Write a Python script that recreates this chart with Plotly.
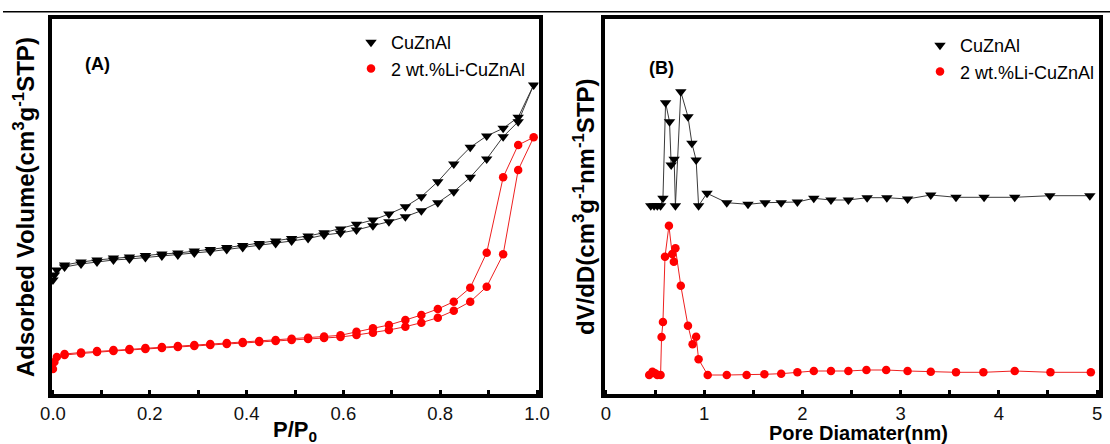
import plotly.graph_objects as go

# ---------------- data (a.u. on y) ----------------
# Panel A: N2 isotherms
p_ads = [0.000, 0.003, 0.008, 0.024, 0.058, 0.091, 0.125, 0.158, 0.191, 0.225, 0.258,
         0.292, 0.325, 0.359, 0.392, 0.426, 0.460, 0.493, 0.527, 0.560, 0.594, 0.627,
         0.661, 0.694, 0.728, 0.761, 0.795, 0.828, 0.862, 0.896, 0.930, 0.961, 0.993]
p_des = [0.961, 0.930, 0.896, 0.862, 0.828, 0.795, 0.761, 0.728, 0.694, 0.661, 0.627,
         0.594, 0.560, 0.527, 0.493, 0.460, 0.426, 0.392, 0.359, 0.325, 0.292, 0.258,
         0.225, 0.191, 0.158, 0.125, 0.091, 0.058, 0.024]
cuznal_ads = [117, 122, 127, 130, 133, 135, 137, 138, 139.5, 141, 142, 144, 145.5, 147.5,
              149.5, 151.5, 153.5, 156, 158.5, 162, 164, 167, 171.3, 175.3, 180.3, 186.3,
              194.3, 205.3, 219.7, 238, 260.3, 275.3, 312]
cuznal_des = [279.7, 268.7, 261, 249.7, 233, 215.3, 200.3, 190.3, 183, 177, 172.7, 168,
              164.3, 161, 158.5, 156, 153.5, 151.5, 149.5, 147.5, 146, 144, 143, 141.5,
              140, 139, 137, 135, 132]
li_ads = [28, 35, 40, 42, 43.5, 45, 46, 47, 48, 49, 50, 51, 52, 53, 54, 55, 56, 57, 58, 59,
          60, 62, 64.3, 67, 70.3, 74.3, 79.3, 86.3, 95.3, 110.3, 142.7, 227, 259.7]
li_des = [252, 219.7, 144.3, 109.3, 95.3, 88, 82, 77, 72, 68.7, 65.3, 61.7, 60.5, 59.3,
          58.2, 57, 56, 55, 54, 53, 52, 51, 50, 49, 48, 47, 46, 44.5, 43]

# Panel B: pore size distribution
d_cuznal = [0.456, 0.490, 0.523, 0.556, 0.580, 0.607, 0.647, 0.664, 0.694, 0.707, 0.762,
            0.835, 0.875, 0.918, 0.943, 1.029, 1.230, 1.446, 1.620, 1.784, 1.949, 2.116,
            2.291, 2.468, 2.659, 2.860, 3.071, 3.307, 3.564, 3.850, 4.162, 4.520, 4.927]
v_cuznal = [191.3, 191.3, 191.3, 191.3, 198.7, 294.3, 275.3, 232, 237.7, 191.3, 305.3,
            280.3, 253.7, 237, 191.3, 203.7, 194.3, 192.7, 194.3, 194.3, 195, 198.7,
            197, 197, 199.3, 199.3, 198, 202, 199.7, 199.7, 199.7, 201.3, 201.3]
d_li = [0.440, 0.473, 0.500, 0.523, 0.556, 0.566, 0.580, 0.601, 0.641, 0.674, 0.691,
        0.707, 0.762, 0.835, 0.882, 0.918, 0.943, 1.036, 1.230, 1.432, 1.613, 1.784,
        1.949, 2.116, 2.291, 2.468, 2.652, 2.853, 3.071, 3.307, 3.564, 3.843, 4.162,
        4.526, 4.937]
v_li = [22, 25.3, 23.7, 22, 22, 60, 75, 140.3, 171.3, 143, 135.3, 148.7, 111.3, 71.3,
        52.7, 60.3, 37.7, 22, 22, 22, 22.7, 23.3, 24.7, 26, 26, 26, 27, 27, 26, 25.3,
        24.7, 24.7, 26, 24.7, 24.7]

names = ["CuZnAl", "2 wt.%Li-CuZnAl"]
xticks_a = [0.0, 0.2, 0.4, 0.6, 0.8, 1.0]
xticks_b = [0, 1, 2, 3, 4, 5]

# ---------------- styling ----------------
W, H = 1110, 444
FONT = "Liberation Sans, Arial, sans-serif"
BLACK_LINE = "#3a3a3a"
RED = "#ff0000"
RED_LINE = "#ee2020"
tri = dict(symbol="triangle-down", size=10, color="#000000")
dot = dict(symbol="circle", size=8.5, color=RED)

def px_x(p):
    return p / W

def px_y(p):
    return 1 - p / H

fig = go.Figure()

# Panel A
fig.add_trace(go.Scatter(x=p_ads + p_des, y=cuznal_ads + cuznal_des, mode="lines+markers",
                         line=dict(color=BLACK_LINE, width=1), marker=tri,
                         xaxis="x", yaxis="y", showlegend=False))
fig.add_trace(go.Scatter(x=p_ads + p_des, y=li_ads + li_des, mode="lines+markers",
                         line=dict(color=RED_LINE, width=1), marker=dot,
                         xaxis="x", yaxis="y", showlegend=False))
# Panel B
fig.add_trace(go.Scatter(x=d_cuznal, y=v_cuznal, mode="lines+markers",
                         line=dict(color=BLACK_LINE, width=1), marker=tri,
                         xaxis="x2", yaxis="y2", showlegend=False))
fig.add_trace(go.Scatter(x=d_li, y=v_li, mode="lines+markers",
                         line=dict(color=RED_LINE, width=1), marker=dot,
                         xaxis="x2", yaxis="y2", showlegend=False))

# legend entries (marker only)
for lg, xa, ya in (("legend", "x", "y"), ("legend2", "x2", "y2")):
    fig.add_trace(go.Scatter(x=[None], y=[None], mode="markers", marker=tri, name=names[0],
                             legend=lg, xaxis=xa, yaxis=ya))
    fig.add_trace(go.Scatter(x=[None], y=[None], mode="markers", marker=dot, name=names[1],
                             legend=lg, xaxis=xa, yaxis=ya))

axis_common = dict(showline=True, linewidth=3.5, linecolor="#000", mirror=True,
                   showgrid=False, zeroline=False, automargin=False)
xcommon = dict(axis_common, ticks="inside", ticklen=5, tickwidth=2.5, tickcolor="#000",
               tickfont=dict(family=FONT, size=18.5, color="#111"))
ycommon = dict(axis_common, ticks="", showticklabels=False, range=[2.7, 378.5])

ydom = [px_y(394.3), px_y(18.5)]

fig.update_layout(
    width=W, height=H,
    margin=dict(l=0, r=0, t=0, b=0),
    paper_bgcolor="white", plot_bgcolor="white",
    font=dict(family=FONT, color="#000"),
    xaxis=dict(xcommon, domain=[px_x(51.5), px_x(538.5)], range=[-0.003, 1.003],
               tickvals=xticks_a, ticktext=[f"{v:.1f}" for v in xticks_a],
               minor=dict(dtick=0.1, tick0=0, ticks="inside", ticklen=5, tickwidth=2.5,
                          tickcolor="#000"),
               anchor="y"),
    yaxis=dict(ycommon, domain=ydom, anchor="x"),
    xaxis2=dict(xcommon, domain=[px_x(604.5), px_x(1098.5)], range=[-0.015, 5.015],
                tickvals=xticks_b, ticktext=[str(v) for v in xticks_b],
                minor=dict(dtick=0.5, tick0=0, ticks="inside", ticklen=5, tickwidth=2.5,
                           tickcolor="#000"),
                anchor="y2"),
    yaxis2=dict(ycommon, domain=ydom, anchor="x2"),
    legend=dict(x=px_x(351), y=px_y(24), xanchor="left", yanchor="top",
                font=dict(family=FONT, size=18, color="#000"), bgcolor="rgba(0,0,0,0)",
                borderwidth=0, tracegroupgap=0, itemwidth=30),
    legend2=dict(x=px_x(920), y=px_y(27), xanchor="left", yanchor="top",
                 font=dict(family=FONT, size=18, color="#000"), bgcolor="rgba(0,0,0,0)",
                 borderwidth=0, tracegroupgap=0, itemwidth=30),
    shapes=[dict(type="line", xref="paper", yref="paper", x0=px_x(3), x1=1.0,
                 y0=px_y(11.7), y1=px_y(11.7), line=dict(color="#000", width=1.5))],
)

ann = [
    dict(text="<b>(A)</b>", x=px_x(97.5), y=px_y(63.5), size=18, angle=0),
    dict(text="<b>(B)</b>", x=px_x(661), y=px_y(68), size=18, angle=0),
    dict(text="<b>Adsorbed Volume(cm<sup>3</sup>g<sup>-1</sup>STP)</b>",
         x=px_x(24), y=px_y(207), size=24, angle=-90),
    dict(text="<b>dV/dD(cm<sup>3</sup>g<sup>-1</sup>nm<sup>-1</sup>STP)</b>",
         x=px_x(584), y=px_y(207), size=24, angle=-90),
    dict(text="<b>P/P<sub>0</sub></b>", x=px_x(295), y=px_y(430.5), size=22, angle=0),
    dict(text="<b>Pore Diamater(nm)</b>", x=px_x(858), y=px_y(433), size=20, angle=0),
]
for a in ann:
    fig.add_annotation(text=a["text"], x=a["x"], y=a["y"], xref="paper", yref="paper",
                       xanchor="center", yanchor="middle", showarrow=False,
                       textangle=a["angle"], font=dict(family=FONT, size=a["size"], color="#000"))

fig.write_html("out.html")
